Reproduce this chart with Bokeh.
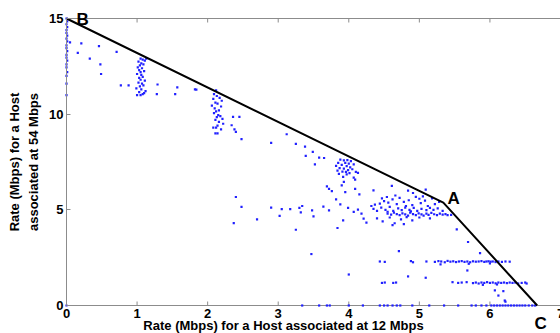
import math
from bokeh.plotting import figure
from bokeh.models import Range1d, FixedTicker, Label, ColumnDataSource
from bokeh.embed import file_html
from bokeh.resources import INLINE

# ---- data ----
x_ticks = [0, 1, 2, 3, 4, 5, 6, 7]
y_ticks = [0, 5, 10, 15]

# capacity region boundary B -> A -> C
bound_x = [0.0, 5.34, 6.67]
bound_y = [15.0, 5.38, 0.0]
corner_names = ["B", "A", "C"]

# column of samples at x = 0
col0_x = [0.0, 0.01, 0.0, 0.01, 0.0, 0.0, 0.01, 0.0, 0.01, 0.0, 0.0, 0.01, 0.0, 0.0, 0.01, 0.0, 0.0, 0.01, 0.0, 0.0, 0.0, 0.0]
col0_y = [15.0, 14.85, 14.7, 14.55, 14.4, 14.25, 14.1, 13.95, 13.8, 13.6, 13.45, 13.3, 13.1, 12.95, 12.8, 12.6, 12.45, 12.2, 12.0, 11.6, 11.0, 0.0]

# cluster around x = 1
c1_x = [1.05, 1.08, 1.11, 1.13, 1.02, 1.06, 1.04, 1.09, 1.01, 1.07, 1.03, 1.05, 1.10, 1.00, 1.06, 1.08, 1.03, 1.05, 1.11, 1.02, 1.07, 1.09, 1.04, 0.99, 1.06, 1.12, 1.03, 1.08, 1.00, 1.05, 1.10]
c1_y = [12.9, 12.85, 12.8, 12.9, 12.75, 12.65, 12.55, 12.6, 12.45, 12.4, 12.3, 12.2, 12.25, 12.1, 12.05, 11.95, 11.9, 11.8, 11.75, 11.65, 11.6, 11.5, 11.45, 11.35, 11.3, 11.2, 11.15, 11.05, 11.0, 11.0, 11.1]

# cluster around x = 2.1
c2_x = [2.12, 2.09, 2.13, 2.17, 2.08, 2.20, 2.11, 2.14, 2.06, 2.19, 2.10, 2.16, 2.12, 2.09, 2.15, 2.18, 2.13, 2.21, 2.11, 2.16, 2.22, 2.14, 2.08, 2.12, 2.19, 2.11, 2.14]
c2_y = [11.25, 11.05, 10.95, 10.85, 10.8, 10.7, 10.6, 10.55, 10.45, 10.4, 10.3, 10.2, 10.15, 10.05, 9.95, 9.9, 9.85, 9.75, 9.7, 9.6, 9.5, 9.4, 9.3, 9.3, 9.2, 9.0, 9.0]

# cluster around x = 4, y = 7
c4_x = [3.88, 3.93, 3.98, 4.03, 3.85, 3.95, 4.00, 4.07, 3.90, 3.82, 3.97, 4.02, 3.87, 3.93, 4.05, 3.99, 3.84, 3.91, 3.96, 4.10, 4.01, 4.13, 3.86, 3.92, 4.07, 3.93, 4.09, 3.97]
c4_y = [7.62, 7.58, 7.60, 7.55, 7.45, 7.45, 7.42, 7.38, 7.35, 7.30, 7.28, 7.22, 7.18, 7.15, 7.12, 7.08, 7.05, 7.00, 6.98, 6.98, 6.92, 6.93, 6.88, 6.72, 6.68, 6.46, 6.58, 6.85]

# dense band under corner A
band_x = [4.32, 4.37, 4.44, 4.50, 4.56, 4.62, 4.68, 4.72, 4.78, 4.85, 4.90, 4.95, 5.02, 5.08, 5.12, 5.18, 5.22, 5.28, 4.47, 4.66, 4.81, 5.05,
          4.35, 4.40, 4.46, 4.52, 4.58, 4.63, 4.70, 4.75, 4.80, 4.86, 4.92, 4.97, 5.03, 5.10, 5.15, 5.20, 5.26, 5.33, 4.55, 4.88,
          4.55, 4.60, 4.64, 4.68, 4.72, 4.76, 4.80, 4.84, 4.87, 4.91, 4.95, 4.99, 5.03, 5.06, 5.10, 5.13, 5.17, 5.21, 5.25, 5.29, 5.33, 5.37, 5.40, 5.45,
          4.40, 4.48, 4.58, 4.65, 4.74, 4.82, 4.90, 5.00, 4.78, 5.15, 4.62]
band_y = [5.20, 5.27, 5.32, 5.45, 5.38, 5.55, 5.30, 5.62, 5.42, 5.50, 5.25, 5.68, 5.35, 5.48, 5.20, 5.60, 5.30, 5.42, 5.60, 5.75, 5.20, 5.70,
          5.05, 4.95, 5.12, 5.00, 5.15, 4.95, 5.08, 4.98, 5.12, 5.00, 5.10, 4.95, 5.05, 4.98, 5.10, 5.00, 5.08, 4.95, 4.90, 4.92,
          4.80, 4.75, 4.85, 4.78, 4.72, 4.82, 4.76, 4.70, 4.85, 4.78, 4.72, 4.82, 4.76, 4.70, 4.80, 4.74, 4.84, 4.77, 4.72, 4.80, 4.75, 4.78, 4.72, 4.74,
          4.55, 4.40, 4.60, 4.30, 4.50, 4.62, 4.45, 4.60, 4.25, 4.55, 4.20]

# row at about 2.3 Mbps
r2_x = [4.44, 4.51, 4.88, 4.91, 5.10, 5.22, 5.27, 5.31, 5.36, 5.40, 5.44, 5.48, 5.52, 5.56, 5.60, 5.64, 5.68, 5.72, 5.76, 5.80, 5.84, 5.88, 5.92, 5.95, 5.98, 6.01, 6.04, 6.08, 6.12, 6.17, 6.22, 6.28, 5.30, 5.70, 6.00]
r2_y = [2.30, 2.28, 2.32, 2.26, 2.30, 2.28, 2.32, 2.30, 2.26, 2.33, 2.29, 2.31, 2.27, 2.30, 2.32, 2.28, 2.30, 2.26, 2.31, 2.29, 2.30, 2.32, 2.28, 2.30, 2.31, 2.29, 2.30, 2.27, 2.30, 2.28, 2.30, 2.29, 2.15, 2.18, 2.20]

# row at about 1.2 Mbps
r1_x = [4.47, 4.51, 4.63, 4.67, 5.47, 5.55, 5.60, 5.67, 5.76, 5.80, 5.84, 5.88, 5.92, 5.96, 6.00, 6.04, 6.08, 6.12, 6.16, 6.20, 6.24, 6.28, 6.32, 6.36, 6.40, 6.45, 6.50, 6.52, 5.90, 6.10]
r1_y = [1.18, 1.20, 1.18, 1.20, 1.22, 1.18, 1.20, 1.22, 1.17, 1.20, 1.15, 1.20, 1.18, 1.22, 1.18, 1.20, 1.16, 1.20, 1.18, 1.20, 1.17, 1.20, 1.18, 1.20, 1.15, 1.18, 1.20, 1.15, 1.08, 1.10]

# row at 0 Mbps
r0_x = [3.34, 3.58, 3.69, 3.73, 4.00, 4.20, 4.44, 4.50, 4.55, 4.62, 4.68, 4.73, 4.90, 5.14, 5.35, 5.55, 5.74, 5.80, 5.88, 5.95, 6.02, 6.06, 6.10, 6.14, 6.18, 6.22, 6.26, 6.30, 6.34, 6.38, 6.42, 6.46, 6.50, 6.55, 6.60, 6.64]
r0_y = [0.0] * len(r0_x)

# scattered samples
sc_x = [0.05, 0.21, 0.46, 0.71, 0.16, 0.33, 0.48, 0.49, 0.77, 0.88, 1.29, 1.28, 1.54, 1.57, 1.82, 1.84,
        2.36, 2.45, 2.34, 2.38, 2.40, 2.48, 2.90, 3.12, 3.25, 3.38, 3.49, 3.39, 3.58, 3.65, 3.52,
        3.69, 3.72, 3.76, 3.90, 3.95, 4.09, 4.35, 4.61, 4.84, 5.09, 4.91, 5.00, 3.82, 4.15, 2.40, 4.54,
        2.48, 2.37, 2.70, 2.90, 3.02, 3.05, 3.17, 3.30, 3.34, 3.32, 3.25, 3.48, 3.50, 3.47, 3.64, 3.72, 3.84,
        3.88, 3.92, 3.99, 4.07, 4.13, 4.18, 4.21, 4.25,
        5.53, 5.69, 5.86, 4.71, 4.84, 5.09, 5.68, 6.07, 6.12, 6.21, 6.19, 6.22, 4.00]
sc_y = [13.75, 13.70, 13.56, 13.26, 13.20, 12.90, 12.60, 12.10, 11.50, 11.50, 11.55, 11.05, 11.05, 11.40, 11.30, 11.28,
        9.86, 9.86, 9.42, 9.20, 9.07, 8.70, 8.50, 8.95, 8.45, 8.30, 8.03, 7.82, 7.73, 7.71, 7.38,
        6.23, 6.10, 5.98, 6.28, 5.93, 6.10, 6.02, 6.25, 6.00, 6.06, 5.88, 5.58, 5.55, 5.81, 5.67, 5.67,
        5.15, 4.31, 4.50, 5.12, 4.68, 5.04, 5.04, 5.10, 5.20, 4.87, 3.96, 4.97, 4.66, 2.69, 5.17, 4.97, 4.05,
        5.29, 4.45, 5.10, 4.89, 5.01, 4.80, 4.54, 4.33,
        3.98, 3.32, 2.74, 2.84, 1.52, 1.45, 1.83, 0.79, 0.52, 0.26, 0.75, 0.20, 1.62]

x_title = "Rate (Mbps) for a Host associated at 12 Mbps"
y_title = "Rate (Mbps) for a Host\nassociated at 54 Mbps"

all_x = col0_x + c1_x + c2_x + c4_x + band_x + r2_x + r1_x + r0_x + sc_x
all_y = col0_y + c1_y + c2_y + c4_y + band_y + r2_y + r1_y + r0_y + sc_y
src = ColumnDataSource(data=dict(x=all_x, y=all_y))

# ---- layout: the frame fills the whole canvas ----
W, H = 560, 333
X0_PX = 66                 # pixel column of x = 0
Y15_PX, Y0_PX = 18, 305    # pixel rows of y = 15 and y = 0
TICK_PX = 4
ppu_x = (W - X0_PX) / 7.0
ppu_y = (Y0_PX - Y15_PX) / 15.0
x_lo, x_hi = -X0_PX / ppu_x, 7.0
y_lo, y_hi = -(H - Y0_PX) / ppu_y, 15 + Y15_PX / ppu_y

FONT = "Liberation Sans"
GREY = "#8c8c8c"

p = figure(width=W, height=H, x_range=Range1d(x_lo, x_hi), y_range=Range1d(y_lo, y_hi),
           output_backend="svg", toolbar_location=None, min_border=0,
           min_border_left=0, min_border_top=0, min_border_right=0, min_border_bottom=0)
p.grid.visible = False
p.outline_line_color = None
p.background_fill_color = "white"
p.border_fill_color = "white"

# left axis: a real axis pinned at x = 0 (its labels are drawn as labels below)
p.xaxis.visible = False
ya = p.yaxis[0]
ya.fixed_location = 0
ya.bounds = (0, y_ticks[-1])
ya.ticker = FixedTicker(ticks=y_ticks)
ya.axis_line_color = GREY
ya.major_tick_line_color = GREY
ya.minor_tick_line_color = None
ya.major_tick_in = TICK_PX
ya.major_tick_out = 0
ya.major_label_text_color = None
ya.axis_label = None

# bottom (y = 0) and top (y = 15) axis rules with inward ticks, from the tick arrays
x_end = x_ticks[-1]
y_top = y_ticks[-1]
p.segment(x0=[0, 0], y0=[0, y_top], x1=[x_end, x_end], y1=[0, y_top], line_color=GREY, line_width=1)
tick_dy = TICK_PX / ppu_y
p.segment(x0=x_ticks, y0=[0] * len(x_ticks), x1=x_ticks, y1=[tick_dy] * len(x_ticks),
          line_color=GREY, line_width=1)
p.segment(x0=x_ticks, y0=[y_top] * len(x_ticks), x1=x_ticks, y1=[y_top - tick_dy] * len(x_ticks),
          line_color=GREY, line_width=1)

# samples and boundary
p.scatter("x", "y", source=src, marker="square", size=2.2, color="#2020ff", line_color=None)
p.line(bound_x, bound_y, line_color="black", line_width=2)


def add_text(x, y, text, size, align="center", baseline="middle", angle=0.0, line_height=1.2):
    p.add_layout(Label(x=x, y=y, text=text, text_font=FONT, text_font_style="bold",
                       text_font_size=size, text_color="black", text_align=align,
                       text_baseline=baseline, angle=angle, text_line_height=line_height,
                       background_fill_color=None, border_line_color=None))


# axis titles
add_text(3.075, -1.02, x_title, "13px")
add_text(-0.60, 7.5, y_title, "13px", angle=math.pi / 2, line_height=1.3)

# tick labels
x_lab_y = -3.0 / ppu_y
for t in x_ticks:
    add_text(t, x_lab_y, str(t), "13px", baseline="top")
y_lab_x = -3.0 / ppu_x
for t in y_ticks:
    add_text(y_lab_x, t, str(t), "13px", align="right")

# corner letters
label_dx = [0.14, 0.06, -0.04]
label_dy = [-0.05, 0.21, -0.94]
for name, bx, by, dx, dy in zip(corner_names, bound_x, bound_y, label_dx, label_dy):
    add_text(bx + dx, by + dy, name, "17px", align="left")

open("out.html", "w").write(file_html(p, INLINE))
